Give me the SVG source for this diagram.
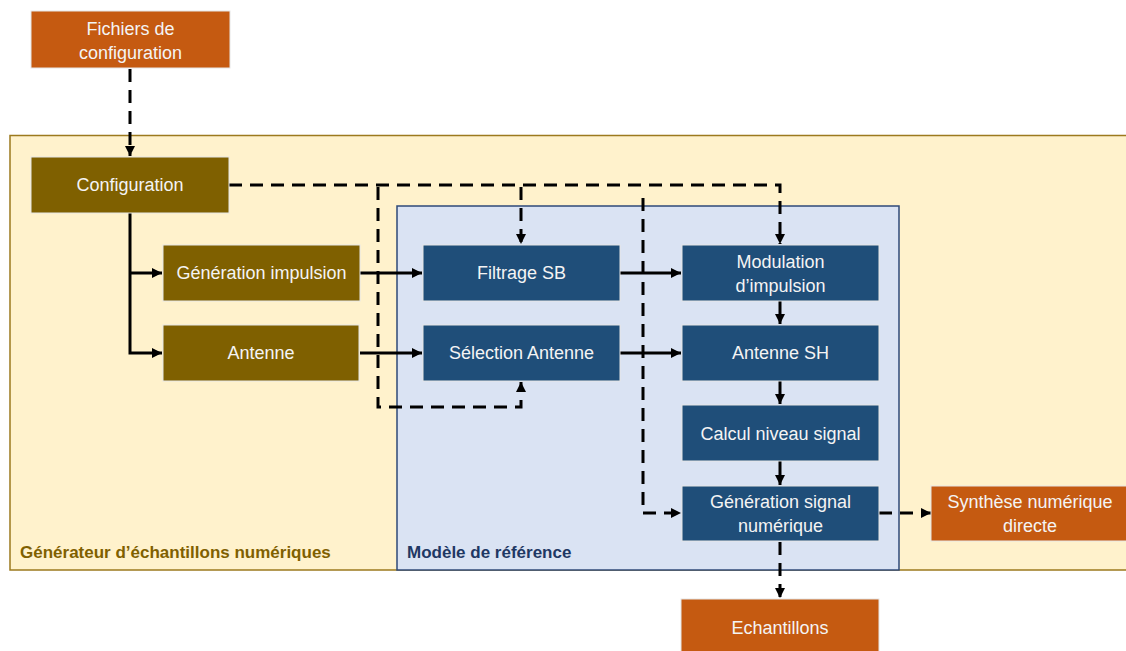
<svg xmlns="http://www.w3.org/2000/svg" width="1126" height="651" viewBox="0 0 1126 651">
  <defs>
    <marker id="arrow" viewBox="0 0 10 10" refX="10" refY="5" markerUnits="userSpaceOnUse" markerWidth="10" markerHeight="11" orient="auto">
      <path d="M0,0 L10,5 L0,10 z" fill="#000"/>
    </marker>
    <style>
      .box { stroke: #e6e6e6; stroke-width: 1; }
      .orange { fill: #c55a11; }
      .olive { fill: #7f6000; }
      .blue { fill: #1f4e79; }
      .lbl { font-family: "Liberation Sans", Arial, sans-serif; font-size: 18px; fill: #f4f4f4; text-anchor: middle; }
      .solid { fill: none; stroke: #000; stroke-width: 3; }
      .dash { fill: none; stroke: #000; stroke-width: 3; stroke-dasharray: 13 8; }
      .title { font-family: "Liberation Sans", Arial, sans-serif; font-size: 17px; font-weight: bold; }
    </style>
  </defs>

  <rect width="1126" height="651" fill="#ffffff"/>

  <!-- containers -->
  <g id="generateur">
    <rect x="10" y="135.5" width="1130" height="434.5" fill="#fff2cc" stroke="#9c7a1e" stroke-width="1.5"/>
    <text class="title" x="20" y="558" fill="#7f6000">Générateur d’échantillons numériques</text>
  </g>
  <g id="modele">
    <rect x="397" y="206" width="502" height="364" fill="#dae3f3" stroke="#2f4a78" stroke-width="1.5"/>
    <text class="title" x="407" y="558" fill="#1f3864">Modèle de référence</text>
  </g>

  <!-- connectors -->
  <g id="connectors">
    <path class="dash" d="M130,69 V156" marker-end="url(#arrow)"/>
    <path class="solid" d="M130,213 V353 H162" marker-end="url(#arrow)"/>
    <path class="solid" d="M130,273 H162" marker-end="url(#arrow)"/>
    <path class="solid" d="M360,273 H422" marker-end="url(#arrow)"/>
    <path class="solid" d="M360,353 H422" marker-end="url(#arrow)"/>
    <path class="solid" d="M620,273 H681" marker-end="url(#arrow)"/>
    <path class="solid" d="M620,353 H681" marker-end="url(#arrow)"/>
    <path class="solid" d="M780,301 V324" marker-end="url(#arrow)"/>
    <path class="solid" d="M780,381 V404" marker-end="url(#arrow)"/>
    <path class="solid" d="M780,461 V485" marker-end="url(#arrow)"/>
    <path class="dash" d="M229,185 H780 V244" marker-end="url(#arrow)"/>
    <path class="dash" d="M521,187 V244" marker-end="url(#arrow)"/>
    <path class="dash" d="M378,187 V407 H521 V382" marker-end="url(#arrow)"/>
    <path class="dash" d="M643,198 V513 H681" marker-end="url(#arrow)"/>
    <path class="dash" d="M879,513 H931" marker-end="url(#arrow)"/>
    <path class="dash" d="M780,542 V598" marker-end="url(#arrow)"/>
  </g>

  <!-- nodes -->
  <g id="fichiers">
    <rect class="box orange" x="31" y="11" width="199" height="57"/>
    <text class="lbl" x="130.5" y="35">Fichiers de</text>
    <text class="lbl" x="130.5" y="59">configuration</text>
  </g>
  <g id="configuration">
    <rect class="box olive" x="31" y="157" width="198" height="56"/>
    <text class="lbl" x="130" y="191">Configuration</text>
  </g>
  <g id="generation-impulsion">
    <rect class="box olive" x="163" y="245" width="197" height="56"/>
    <text class="lbl" x="261.5" y="279">Génération impulsion</text>
  </g>
  <g id="antenne">
    <rect class="box olive" x="163" y="325" width="196" height="56"/>
    <text class="lbl" x="261" y="359">Antenne</text>
  </g>
  <g id="filtrage-sb">
    <rect class="box blue" x="423" y="245" width="197" height="56"/>
    <text class="lbl" x="521.5" y="279">Filtrage SB</text>
  </g>
  <g id="selection-antenne">
    <rect class="box blue" x="423" y="325" width="197" height="56"/>
    <text class="lbl" x="521.5" y="359">Sélection Antenne</text>
  </g>
  <g id="modulation">
    <rect class="box blue" x="682" y="245" width="197" height="56"/>
    <text class="lbl" x="780.5" y="268">Modulation</text>
    <text class="lbl" x="780.5" y="292">d’impulsion</text>
  </g>
  <g id="antenne-sh">
    <rect class="box blue" x="682" y="325" width="197" height="56"/>
    <text class="lbl" x="780.5" y="359">Antenne SH</text>
  </g>
  <g id="calcul-niveau">
    <rect class="box blue" x="682" y="405" width="197" height="56"/>
    <text class="lbl" x="780.5" y="440">Calcul niveau signal</text>
  </g>
  <g id="generation-signal">
    <rect class="box blue" x="682" y="486" width="197" height="55"/>
    <text class="lbl" x="780.5" y="508">Génération signal</text>
    <text class="lbl" x="780.5" y="532">numérique</text>
  </g>
  <g id="synthese">
    <rect class="box orange" x="931" y="486" width="200" height="55"/>
    <text class="lbl" x="1030" y="508">Synthèse numérique</text>
    <text class="lbl" x="1030" y="532">directe</text>
  </g>
  <g id="echantillons">
    <rect class="box orange" x="681" y="599" width="198" height="60"/>
    <text class="lbl" x="780" y="634">Echantillons</text>
  </g>
</svg>
